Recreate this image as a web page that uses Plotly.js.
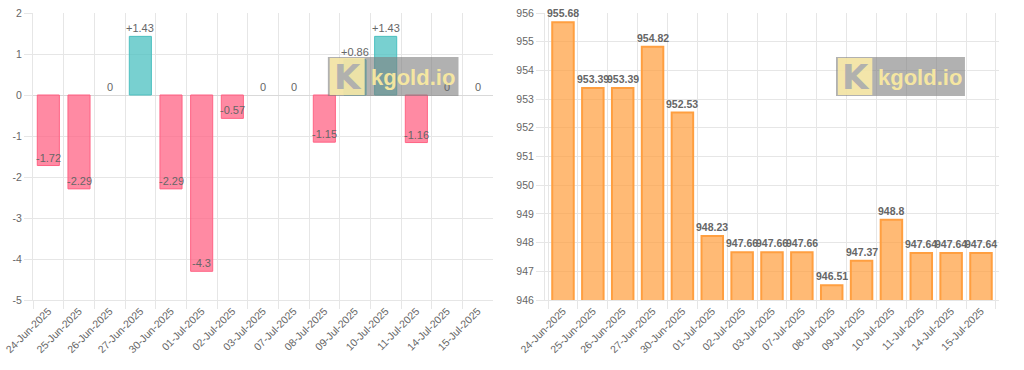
<!DOCTYPE html>
<html>
<head>
<meta charset="utf-8">
<script src="https://cdn.plot.ly/plotly-3.0.1.min.js"></script>
<style>html,body{margin:0;padding:0;background:#fff;}#chart{width:1024px;height:370px;}</style>
</head>
<body>
<div id="chart"></div>
<script>
const dates = ["24-Jun-2025","25-Jun-2025","26-Jun-2025","27-Jun-2025","30-Jun-2025","01-Jul-2025","02-Jul-2025","03-Jul-2025","07-Jul-2025","08-Jul-2025","09-Jul-2025","10-Jul-2025","11-Jul-2025","14-Jul-2025","15-Jul-2025"];
const changes = [-1.72,-2.29,0,1.43,-2.29,-4.3,-0.57,0,0,-1.15,0.86,1.43,-1.16,0,0];
const prices = [955.68,953.39,953.39,954.82,952.53,948.23,947.66,947.66,947.66,946.51,947.37,948.8,947.64,947.64,947.64];
const changeTicks = [-5,-4,-3,-2,-1,0,1,2];
const priceTicks = [946,947,948,949,950,951,952,953,954,955,956];
const watermarkText = "kgold.io";

const grid = "#e6e6e6";
const FAM = "Liberation Sans, Arial, Helvetica, sans-serif";
const tickFont = {family: FAM, size: 10.5, color: "#666"};

const upFill = "rgba(75,192,192,0.75)", upLine = "rgb(75,192,192)";
const dnFill = "rgba(255,99,132,0.75)", dnLine = "rgb(255,99,132)";

const trace1 = {
  type: "bar", x: dates, y: changes, xaxis: "x", yaxis: "y",
  marker: {
    color: changes.map(v => v > 0 ? upFill : dnFill),
    line: {color: changes.map(v => v > 0 ? upLine : dnLine), width: changes.map(v => v === 0 ? 0 : 1)}
  },
  hoverinfo: "skip"
};
const trace2 = {
  type: "bar", x: dates, y: prices, xaxis: "x2", yaxis: "y2",
  marker: {color: "rgba(255,159,64,0.72)", line: {color: "rgb(255,159,64)", width: 2}},
  hoverinfo: "skip"
};

const fmtChange = v => v > 0 ? "+" + v : String(v);

const annotations = [];
dates.forEach((d, i) => {
  annotations.push({x: d, y: changes[i], xref: "x", yref: "y", text: fmtChange(changes[i]),
    showarrow: false, xanchor: "center", yanchor: "bottom", yshift: 0, font: {family: FAM, size: 11, color: "#666"}});
  annotations.push({x: d, y: prices[i], xref: "x2", yref: "y2", text: String(prices[i]),
    showarrow: false, xanchor: "center", yanchor: "bottom", yshift: 1, font: {family: FAM, size: 10.5, color: "#666", weight: "bold"}});
});

// watermark (pixel-derived fractions of each plot area)
const domains = [[0, 0.4762], [0.5300, 1]];
const px = (d, f) => d[0] + f * (d[1] - d[0]);
const shapes = [];
domains.forEach(d => {
  shapes.push({type: "rect", xref: "paper", yref: "paper", x0: px(d, 0.641), x1: px(d, 0.925), y0: 0.711, y1: 0.847,
    fillcolor: "rgba(125,125,125,0.6)", line: {width: 0}, layer: "above"});
  shapes.push({type: "rect", xref: "paper", yref: "paper", x0: px(d, 0.645), x1: px(d, 0.721), y0: 0.714, y1: 0.843,
    fillcolor: "rgba(252,236,168,0.88)", line: {width: 0}, layer: "above"});
  annotations.push({xref: "paper", yref: "paper", x: px(d, 0.684), y: 0.777, xanchor: "center", yanchor: "middle",
    text: "K", showarrow: false, font: {family: "DejaVu Sans, Arial, sans-serif", size: 34, color: "#b1b1ae", weight: "bold"}});
  annotations.push({xref: "paper", yref: "paper", x: px(d, 0.826), y: 0.777, xanchor: "center", yanchor: "middle",
    text: watermarkText, showarrow: false, font: {family: FAM, size: 22, color: "rgba(250,234,160,0.95)", weight: "bold"}});
});

const xCommon = {
  type: "category", tickson: "boundaries", ticks: "outside", ticklen: 8, tickcolor: grid,
  showgrid: true, gridcolor: grid, gridwidth: 1, tickangle: -45, tickfont: tickFont,
  showline: true, linecolor: grid, linewidth: 1, zeroline: false, fixedrange: true
};
const yCommon = {
  ticks: "outside", ticklen: 8, tickcolor: grid, showgrid: true, gridcolor: grid, gridwidth: 1,
  tickfont: tickFont, showline: true, linecolor: grid, linewidth: 1, fixedrange: true, tickmode: "array"
};

const layout = {
  width: 1024, height: 370,
  margin: {l: 33, r: 25, t: 13, b: 70},
  paper_bgcolor: "#fff", plot_bgcolor: "#fff",
  showlegend: false, bargap: 0.28,
  xaxis: Object.assign({}, xCommon, {domain: domains[0], anchor: "y"}),
  yaxis: Object.assign({}, yCommon, {range: [-5, 2], tickvals: changeTicks, ticktext: changeTicks.map(String), anchor: "x",
    zeroline: true, zerolinecolor: "#d9d9d9", zerolinewidth: 1}),
  xaxis2: Object.assign({}, xCommon, {domain: domains[1], anchor: "y2"}),
  yaxis2: Object.assign({}, yCommon, {range: [946, 956], tickvals: priceTicks, ticktext: priceTicks.map(String), anchor: "x2", zeroline: false}),
  annotations: annotations,
  shapes: shapes,
  hovermode: false
};

Plotly.newPlot("chart", [trace1, trace2], layout, {displayModeBar: false, staticPlot: true});
</script>
</body>
</html>
